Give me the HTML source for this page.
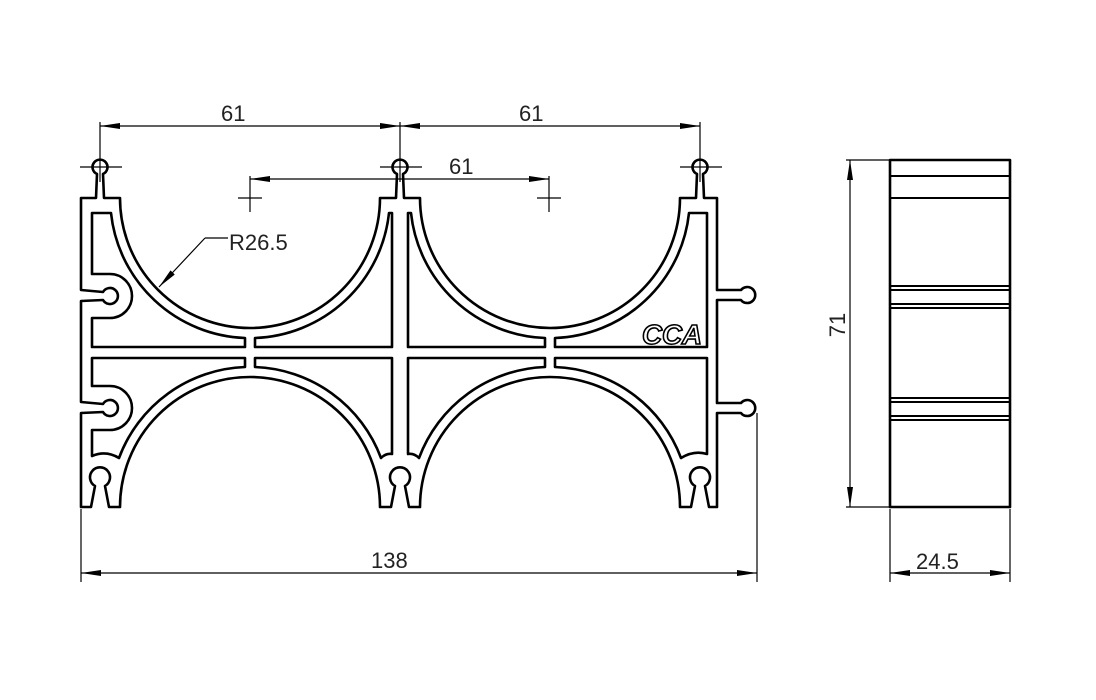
<!DOCTYPE html>
<html><head><meta charset="utf-8"><style>
html,body{margin:0;padding:0;background:#fff;}
svg{display:block;}
text{font-family:"Liberation Sans",sans-serif;fill:#222;}
</style></head><body>
<svg width="1096" height="700" viewBox="0 0 1096 700" xmlns="http://www.w3.org/2000/svg">
<defs>
<marker id="a" viewBox="0 0 20 6" refX="20" refY="3" markerWidth="20" markerHeight="6" orient="auto-start-reverse" markerUnits="userSpaceOnUse">
<path d="M0,0 L20,3 L0,6 Z" fill="#000"/></marker>
</defs>
<g fill="none" stroke="#000" stroke-width="2.6" stroke-linejoin="round">
<!-- outer contour -->
<path d="M81,198 L96,198 L97,174 A7.5,7.5 0 1 1 103,174 L104,198 L120,198 A130,130 0 0 0 380,198 L396,198 L397,174 A7.5,7.5 0 1 1 403,174 L404,198 L420,198 A130,130 0 0 0 680,198 L696,198 L697,174 A7.5,7.5 0 1 1 703,174 L704,198 L717,198 L717,290 L741,290 A8,8 0 1 1 741,300 L717,300 L717,403 L741,403 A8,8 0 1 1 741,413 L717,413 L717,507 L709,507 L705,486 A10,10 0 1 0 695,486 L691,507 L680,507 A130,130 0 0 0 420,507 L409,507 L405,486 A10,10 0 1 0 395,486 L391,507 L380,507 A130,130 0 0 0 120,507 L109,507 L105,486 A10,10 0 1 0 95,486 L91,507 L81,507 L81,413 L103,412 A8,8 0 1 0 103,404 L81,402 L81,301 L103,300 A8,8 0 1 0 103,292 L81,290 Z"/>
<!-- top cavities -->
<path d="M92,213 L111,213 A140,140 0 0 0 245,338 L245,347 L92,347 L92,318 L110,318 A22,22 0 0 0 110,274 L92,274 Z"/>
<path d="M255,347 L255,338 A140,140 0 0 0 389,213 L392,213 L392,347 Z"/>
<path d="M408,347 L408,213 L411,213 A140,140 0 0 0 545,338 L545,347 Z"/>
<path d="M707,213 L689,213 A140,140 0 0 1 555,338 L555,347 L707,347 Z"/>
<!-- bottom cavities -->
<path d="M92,358 L245,358 L245,367 A140,140 0 0 0 119,458 Q106,450 92,456 L92,430 L110,430 A22,22 0 0 0 110,386 L92,386 Z"/>
<path d="M255,358 L392,358 L392,454 Q386,453 381,458 A140,140 0 0 0 255,367 Z"/>
<path d="M408,358 L545,358 L545,367 A140,140 0 0 0 419,458 Q414,453 408,454 Z"/>
<path d="M555,358 L707,358 L707,454 Q694,450 681,458 A140,140 0 0 0 555,367 Z"/>
<!-- side view -->
<rect x="890" y="160" width="120" height="347"/>
<path d="M890,176 H1010 M890,198 H1010 M890,286 H1010 M890,290 H1010 M890,304 H1010 M890,308 H1010 M890,398 H1010 M890,402 H1010 M890,416 H1010 M890,420 H1010" stroke-width="2"/>
</g>
<!-- CCA logo -->
<text x="642" y="344" font-size="28" font-weight="bold" font-style="italic" fill="#fff" stroke="#000" stroke-width="1.6" style="fill:#fff" textLength="60" lengthAdjust="spacingAndGlyphs">CCA</text>
<!-- thin lines -->
<g fill="none" stroke="#000" stroke-width="1.2">
<path d="M100,122 V182 M400,122 V182 M700,122 V182 M80,167 H122 M380,167 H422 M680,167 H722"/>
<path d="M250,176 V212 M238,198 H262 M549,176 V212 M537,198 H561"/>
<line x1="100" y1="126" x2="400" y2="126" marker-start="url(#a)" marker-end="url(#a)"/>
<line x1="400" y1="126" x2="700" y2="126" marker-start="url(#a)" marker-end="url(#a)"/>
<line x1="250" y1="179" x2="549" y2="179" marker-start="url(#a)" marker-end="url(#a)"/>
<path d="M205,238 H228"/>
<line x1="205" y1="238" x2="159" y2="287" marker-end="url(#a)"/>
<path d="M81,509 V582 M757,413 V582 M890,509 V582 M1010,509 V582 M846,160 H890 M846,507 H890"/>
<line x1="81" y1="573" x2="757" y2="573" marker-start="url(#a)" marker-end="url(#a)"/>
<line x1="890" y1="573" x2="1010" y2="573" marker-start="url(#a)" marker-end="url(#a)"/>
<line x1="850" y1="160" x2="850" y2="507" marker-start="url(#a)" marker-end="url(#a)"/>
</g>
<g font-size="22">
<text x="221" y="121">61</text>
<text x="519" y="121">61</text>
<text x="449" y="174">61</text>
<text x="229" y="250">R26.5</text>
<text x="371" y="568">138</text>
<text x="916" y="569">24.5</text>
<text transform="translate(845,325) rotate(-90)" text-anchor="middle">71</text>
</g>
</svg>
</body></html>
